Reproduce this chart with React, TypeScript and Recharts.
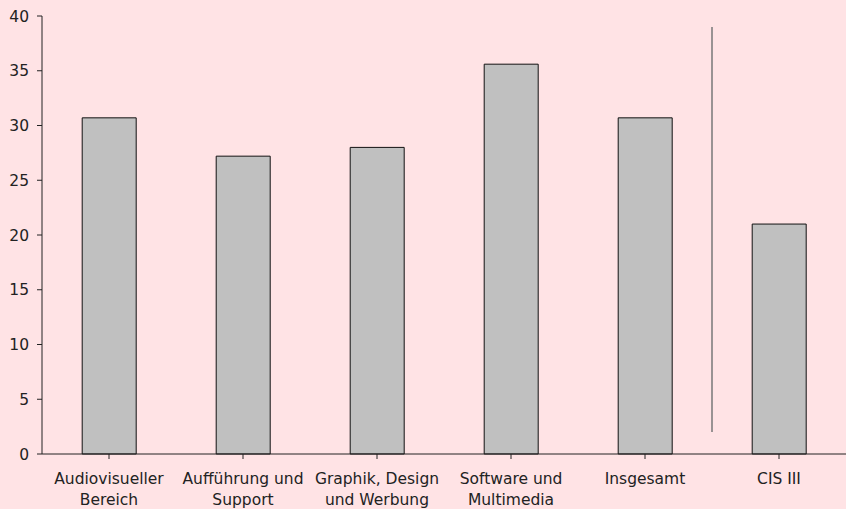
import {
  BarChart,
  Bar,
  XAxis,
  YAxis,
  ReferenceLine,
} from "recharts";

const categories = [
  "Audiovisueller Bereich",
  "Aufführung und Support",
  "Graphik, Design und Werbung",
  "Software und Multimedia",
  "Insgesamt",
  "CIS III",
];
const labelLines = [
  ["Audiovisueller", "Bereich"],
  ["Aufführung und", "Support"],
  ["Graphik, Design", "und Werbung"],
  ["Software und", "Multimedia"],
  ["Insgesamt"],
  ["CIS III"],
];
const values = [30.7, 27.2, 28.0, 35.6, 30.7, 21.0];
const yTicks = [0, 5, 10, 15, 20, 25, 30, 35, 40];

const data = categories.map((name, i) => ({ name, value: values[i] }));

const FONT = "'DejaVu Sans', sans-serif";
const INK = "#222";

const CategoryTick = (props: any) => {
  const { x, y, index } = props;
  const lines = labelLines[index] || [];
  return (
    <text x={x} y={y} textAnchor="middle" fill={INK} fontSize={15.5} fontFamily={FONT}>
      {lines.map((l, i) => (
        <tspan key={i} x={x} dy={i === 0 ? 23 : 21}>
          {l}
        </tspan>
      ))}
    </text>
  );
};

const App = () => {
  return (
    <div
      style={{
        position: "fixed",
        left: 0,
        top: 0,
        width: 846,
        height: 509,
        background: "#ffe3e5",
      }}
    >
      <BarChart
        width={846}
        height={509}
        data={data}
        margin={{ top: 16, right: 0, left: 0, bottom: 0 }}
        barCategoryGap="30%"
      >
        <XAxis
          dataKey="name"
          height={55}
          interval={0}
          stroke={INK}
          tickSize={5}
          tick={<CategoryTick />}
        />
        <YAxis
          width={42}
          domain={[0, 40]}
          ticks={yTicks}
          interval={0}
          stroke={INK}
          tickSize={5}
          tickMargin={8}
          tick={{ fill: INK, fontSize: 15.5, fontFamily: FONT }}
        />
        <Bar
          dataKey="value"
          fill="#c0c0c0"
          stroke="#111"
          strokeWidth={1}
          isAnimationActive={false}
        />
        <ReferenceLine
          position="start"
          segment={[
            { x: "CIS III", y: 2 },
            { x: "CIS III", y: 39 },
          ]}
          stroke="#777"
          strokeWidth={1.5}
        />
      </BarChart>
    </div>
  );
};

export default App;
